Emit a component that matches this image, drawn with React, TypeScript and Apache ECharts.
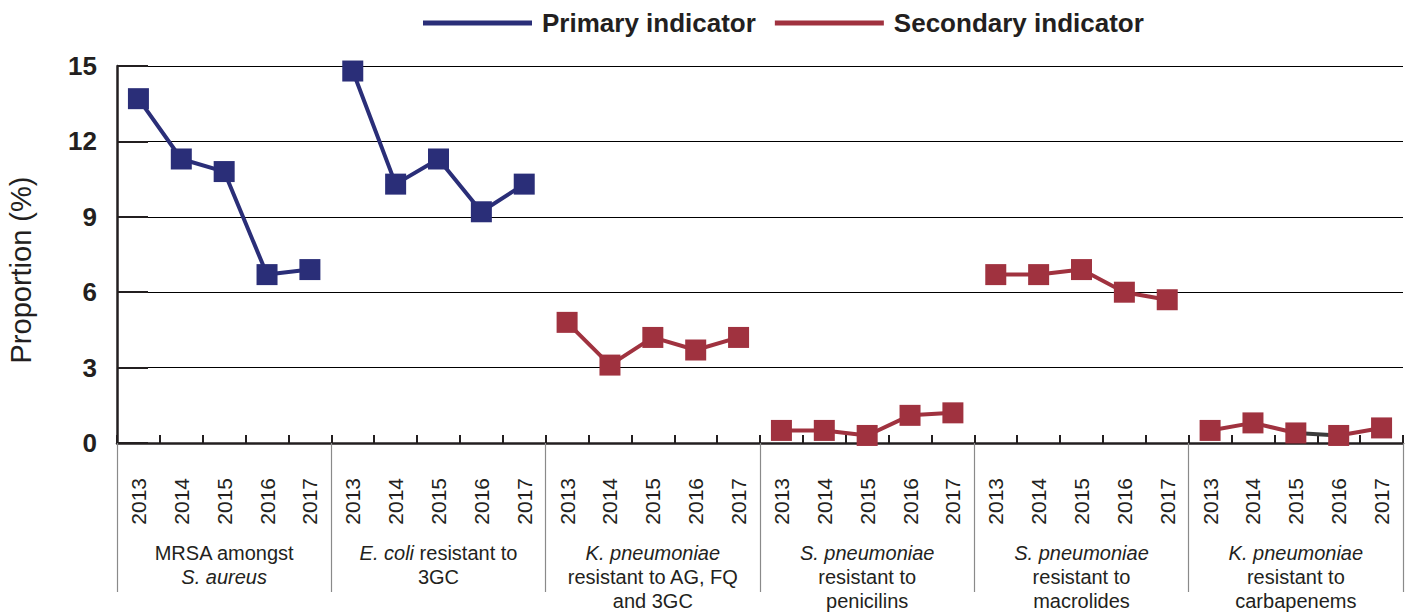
import React, { useEffect, useRef } from "react";
import * as echarts from "echarts";

const years = ["2013", "2014", "2015", "2016", "2017"];
const groupLabels = [
  "MRSA amongst\n{i|S. aureus}",
  "{i|E. coli}{n| resistant to}\n3GC",
  "{i|K. pneumoniae}\nresistant to AG, FQ\nand 3GC",
  "{i|S. pneumoniae}\nresistant to\npenicilins",
  "{i|S. pneumoniae}\nresistant to\nmacrolides",
  "{i|K. pneumoniae}\nresistant to\ncarbapenems",
];
const yTicks = [0, 3, 6, 9, 12, 15];

const mrsa = [13.7, 11.3, 10.8, 6.7, 6.9];
const ecoli = [14.8, 10.3, 11.3, 9.2, 10.3];
const kpnAgFq3gc = [4.8, 3.1, 4.2, 3.7, 4.2];
const spnPenicillins = [0.5, 0.5, 0.3, 1.1, 1.2];
const spnMacrolides = [6.7, 6.7, 6.9, 6.0, 5.7];
const kpnCarbapenems = [0.5, 0.8, 0.4, 0.3, 0.6];

const BLUE = "#2a2e78";
const RED = "#a0323f";
const INK = "#231f20";
const FONT = "'Liberation Sans', Arial, sans-serif";

const categories: string[] = [];
groupLabels.forEach((_, g) => years.forEach((y) => categories.push(`${y}_${g}`)));

function place(groupIndex: number, values: number[], from = 0, to = values.length) {
  const arr: (number | null)[] = new Array(categories.length).fill(null);
  for (let i = from; i < to; i++) arr[groupIndex * years.length + i] = values[i];
  return arr;
}

function lineSeries(name: string, color: string, data: (number | null)[], symbol = true, z = 3) {
  return {
    name,
    type: "line",
    data,
    color,
    z,
    symbol: symbol ? "rect" : "none",
    symbolSize: 21,
    showSymbol: symbol,
    lineStyle: { color, width: 4 },
    itemStyle: { color },
    emphasis: { disabled: true },
  };
}

export default function App() {
  const ref = useRef<HTMLDivElement>(null);
  useEffect(() => {
    if (!ref.current) return;
    const chart = echarts.init(ref.current, undefined, { renderer: "svg" });
    chart.setOption({
      animation: false,
      textStyle: { fontFamily: FONT },
      legend: {
        left: 418,
        top: 5,
        data: [{ name: "Primary indicator" }, { name: "Secondary indicator" }],
        icon: "rect",
        itemWidth: 109,
        itemHeight: 5,
        itemGap: 19,
        textStyle: { fontSize: 26, fontWeight: "bold", color: INK, fontFamily: FONT, padding: [0, 0, 0, 5] },
      },
      grid: { left: 117, right: 3, top: 66, bottom: 171, containLabel: false },
      xAxis: [
        {
          type: "category",
          data: categories,
          boundaryGap: true,
          axisLine: { show: true, lineStyle: { color: INK, width: 2.5 } },
          axisTick: { show: true, inside: true, length: 8, interval: 0, lineStyle: { color: INK, width: 2 } },
          axisLabel: {
            interval: 0,
            rotate: 90,
            margin: 35,
            fontSize: 21,
            color: INK,
            fontFamily: FONT,
            formatter: (v: string) => v.split("_")[0],
          },
          splitLine: { show: false },
        },
        {
          type: "category",
          data: groupLabels,
          position: "bottom",
          boundaryGap: true,
          axisLine: { show: false },
          axisTick: { show: true, inside: false, length: 149, interval: 0, lineStyle: { color: "#8a8a8a", width: 1.2 } },
          axisLabel: {
            interval: 0,
            margin: 98,
            fontSize: 20,
            lineHeight: 24,
            color: INK,
            fontFamily: FONT,
            rich: {
              i: { fontStyle: "italic", fontSize: 20, lineHeight: 24, color: INK, fontFamily: FONT },
              n: { fontSize: 20, lineHeight: 24, color: INK, fontFamily: FONT },
            },
          },
          splitLine: { show: false },
        },
      ],
      yAxis: {
        type: "value",
        min: yTicks[0],
        max: yTicks[yTicks.length - 1],
        interval: 3,
        axisLine: { show: true, lineStyle: { color: INK, width: 2.5 } },
        axisTick: { show: true, inside: true, length: 31, lineStyle: { color: INK, width: 2 } },
        axisLabel: { fontSize: 26, fontWeight: "bold", color: INK, margin: 20, fontFamily: FONT },
        splitLine: { show: true, lineStyle: { color: "#000", width: 1 } },
      },
      graphic: [
        {
          type: "text",
          x: 21,
          y: 270,
          rotation: Math.PI / 2,
          style: {
            text: "Proportion (%)",
            font: `29px ${FONT}`,
            fill: INK,
            textAlign: "center",
            textVerticalAlign: "middle",
          },
        },
      ],
      series: [
        lineSeries("Primary indicator", BLUE, place(0, mrsa)),
        lineSeries("Primary indicator", BLUE, place(1, ecoli)),
        lineSeries("Secondary indicator", RED, place(2, kpnAgFq3gc)),
        lineSeries("Secondary indicator", RED, place(3, spnPenicillins)),
        lineSeries("Secondary indicator", RED, place(4, spnMacrolides)),
        lineSeries("Secondary indicator", RED, place(5, kpnCarbapenems, 0, 3)),
        lineSeries("Secondary indicator", RED, place(5, kpnCarbapenems, 3, 5)),
        lineSeries("carbapenem link", "#3c3c3c", place(5, kpnCarbapenems, 2, 4), false, 2),
      ],
    });
    return () => chart.dispose();
  }, []);
  return (
    <div
      ref={ref}
      style={{ position: "absolute", left: 0, top: 0, width: 1406, height: 614, background: "#fff" }}
    />
  );
}
